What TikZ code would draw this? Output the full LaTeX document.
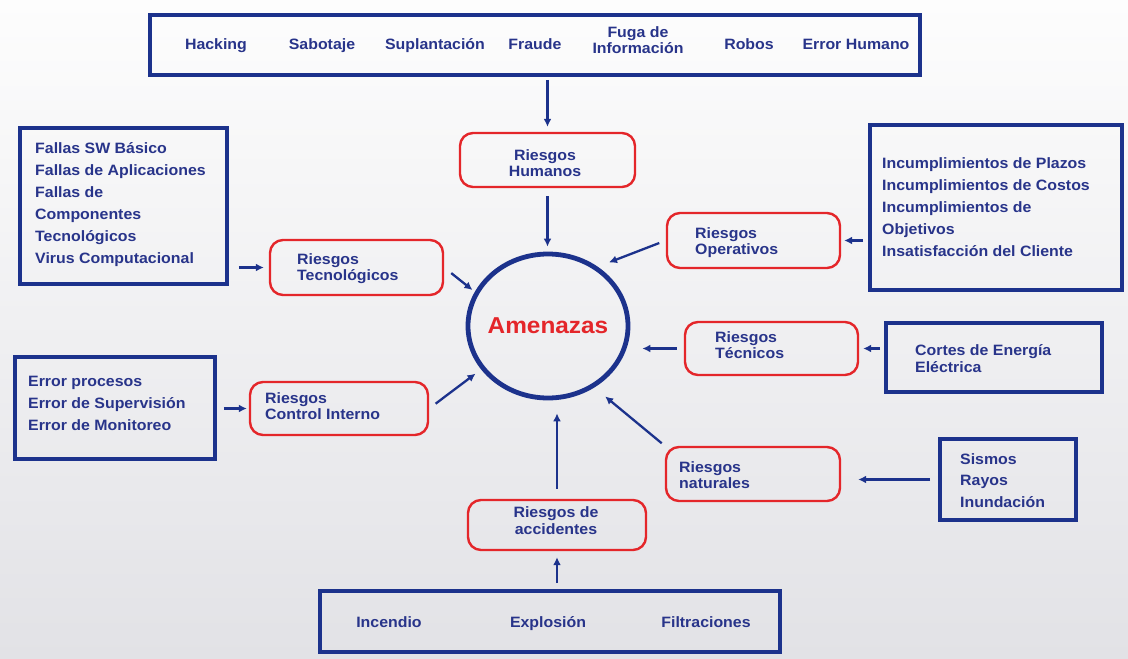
\documentclass[tikz,border=0pt]{standalone}
\usepackage{fontspec}
\setmainfont{Liberation Sans}[FakeStretch=1.06]
\usetikzlibrary{arrows.meta,shapes.geometric}
\definecolor{bblue}{RGB}{28,50,140}
\definecolor{tblue}{RGB}{40,52,138}
\definecolor{rred}{RGB}{228,38,42}
\definecolor{bgtop}{RGB}{253,253,253}
\definecolor{bgbot}{RGB}{226,226,230}
\newcommand\leftlines[3]{\parbox[t]{#1}{\setlength\baselineskip{#2}\setlength\lineskiplimit{-20pt}\raggedright #3}}
\newcommand\midlines[3]{\parbox[t]{#1}{\setlength\baselineskip{#2}\setlength\lineskiplimit{-20pt}\centering #3}}
\begin{document}
\begin{tikzpicture}[x=1pt,y=-1pt,
  bbox/.style={draw=bblue, line width=3.6pt, inner sep=0pt},
  rbox/.style={draw=rred, line width=2.4pt, rounded corners=13pt, inner sep=0pt},
  txt/.style={inner sep=0pt, text=tblue, font=\fontsize{15}{17}\selectfont\bfseries, anchor=base west},
  ctxt/.style={txt, anchor=base},
  arr/.style={draw=bblue, line width=2.3pt, -{Latex[length=8pt,width=8pt]}}
]
\useasboundingbox (0,0) rectangle (1128,659);
\shade[top color=bgtop, bottom color=bgbot] (0,0) rectangle (1128,659);

% outer boxes
\node[bbox, minimum width=770, minimum height=60] (top) at (535,45) {};
\node[bbox, minimum width=207, minimum height=156] (fallas) at (123.5,206) {};
\node[bbox, minimum width=252, minimum height=165] (incum) at (996,207.5) {};
\node[bbox, minimum width=200, minimum height=102] (errbox) at (115,408) {};
\node[bbox, minimum width=216, minimum height=69] (cortes) at (994,357.5) {};
\node[bbox, minimum width=136, minimum height=81] (sismos) at (1008,479.5) {};
\node[bbox, minimum width=460, minimum height=61] (bottom) at (550,621.5) {};

% risk boxes
\node[rbox, minimum width=175, minimum height=54] (hum) at (547.5,160) {};
\node[rbox, minimum width=173, minimum height=55] (ope) at (753.5,240.5) {};
\node[rbox, minimum width=173, minimum height=55] (tec) at (356.5,267.5) {};
\node[rbox, minimum width=178, minimum height=53] (ci) at (339,408.5) {};
\node[rbox, minimum width=173, minimum height=53] (tecn) at (771.5,348.5) {};
\node[rbox, minimum width=174, minimum height=54] (nat) at (753,474) {};
\node[rbox, minimum width=178, minimum height=50] (acc) at (557,525) {};

% center
\node[ellipse, draw=bblue, line width=4.8pt, minimum width=160, minimum height=144, inner sep=0pt,
      text=rred, font=\fontsize{23}{26}\selectfont\bfseries] (amen) at (548,326) {\makebox[0pt][c]{Amenazas}};

% top texts
\node[ctxt] (t1) at (216,49) {Hacking};
\node[ctxt] (t2) at (322,49) {Sabotaje};
\node[ctxt] (t3) at (435,49) {Suplantación};
\node[ctxt] (t4) at (535,49) {Fraude};
\node[ctxt] (t5) at (638,37) {\midlines{120pt}{16pt}{Fuga de\\Información}};
\node[ctxt] (t6) at (749,49) {Robos};
\node[ctxt] (t7) at (856,49) {Error Humano};

% risk texts
\node[ctxt] (lhum) at (545,160) {\midlines{150pt}{16.5pt}{Riesgos\\Humanos}};
\node[txt] (lope) at (695,238) {\leftlines{140pt}{16.5pt}{Riesgos\\Operativos}};
\node[txt] (ltec) at (297,264) {\leftlines{140pt}{16.5pt}{Riesgos\\Tecnológicos}};
\node[txt] (lci) at (265,403) {\leftlines{160pt}{16.5pt}{Riesgos\\Control Interno}};
\node[txt] (ltecn) at (715,342) {\leftlines{140pt}{16.5pt}{Riesgos\\Técnicos}};
\node[txt] (lnat) at (679,472) {\leftlines{140pt}{16.5pt}{Riesgos\\naturales}};
\node[ctxt] (lacc) at (556,517) {\midlines{150pt}{17.5pt}{Riesgos de\\accidentes}};

% box texts
\node[txt] (lfallas) at (35,153) {\leftlines{190pt}{22pt}{Fallas SW Básico\\Fallas de Aplicaciones\\Fallas de\\Componentes\\Tecnológicos\\Virus Computacional}};
\node[txt] (lincum) at (882,168) {\leftlines{240pt}{22pt}{Incumplimientos de Plazos\\Incumplimientos de Costos\\Incumplimientos de\\Objetivos\\Insatisfacción del Cliente}};
\node[txt] (lerr) at (28,386) {\leftlines{190pt}{22pt}{Error procesos\\Error de Supervisión\\Error de Monitoreo}};
\node[txt] (lcortes) at (915,355) {\leftlines{190pt}{17pt}{Cortes de Energía\\Eléctrica}};
\node[txt] (lsismos) at (960,464) {\leftlines{110pt}{21.5pt}{Sismos\\Rayos\\Inundación}};
\node[ctxt] (b1) at (389,627) {Incendio};
\node[ctxt] (b2) at (548,627) {Explosión};
\node[ctxt] (b3) at (706,627) {Filtraciones};

% arrows
\draw[arr, shorten <=3pt, shorten >=5pt] (hum.north |- top.south) -- (hum.north);
\draw[arr, shorten <=8pt, shorten >=5pt] (hum.south) -- (hum.south |- amen.north);
\draw[arr, shorten <=7pt, shorten >=12pt] (ope.west) -- (amen.50);
\draw[arr, shorten <=9pt, shorten >=3pt] (tec.east) -- (amen.155);
\draw[arr, shorten <=8pt, shorten >=7pt] (ci.east) -- (amen.213);
\draw[arr, shorten <=7pt, shorten >=12pt] (tecn.west) -- (tecn.west -| amen.east);
\draw[arr, shorten <=4pt, shorten >=14pt] (nat.north west) -- (amen.-53);
\draw[arr, shorten <=10pt, shorten >=13pt] (acc.north) -- (acc.north |- amen.south);
\draw[arr, shorten <=10pt, shorten >=5pt] (fallas.east |- tec.west) -- (tec.west);
\draw[arr, shorten <=7pt, shorten >=2pt] (errbox.east |- ci.west) -- (ci.west);
\draw[arr, shorten <=5pt, shorten >=3pt] (incum.west |- ope.east) -- (ope.east);
\draw[arr, shorten <=4pt, shorten >=4pt] (cortes.west |- tecn.east) -- (tecn.east);
\draw[arr, shorten <=8pt, shorten >=17pt] (sismos.west) -- (sismos.west -| nat.east);
\draw[arr, shorten <=6pt, shorten >=6pt] (acc.south |- bottom.north) -- (acc.south);
\end{tikzpicture}
\end{document}
